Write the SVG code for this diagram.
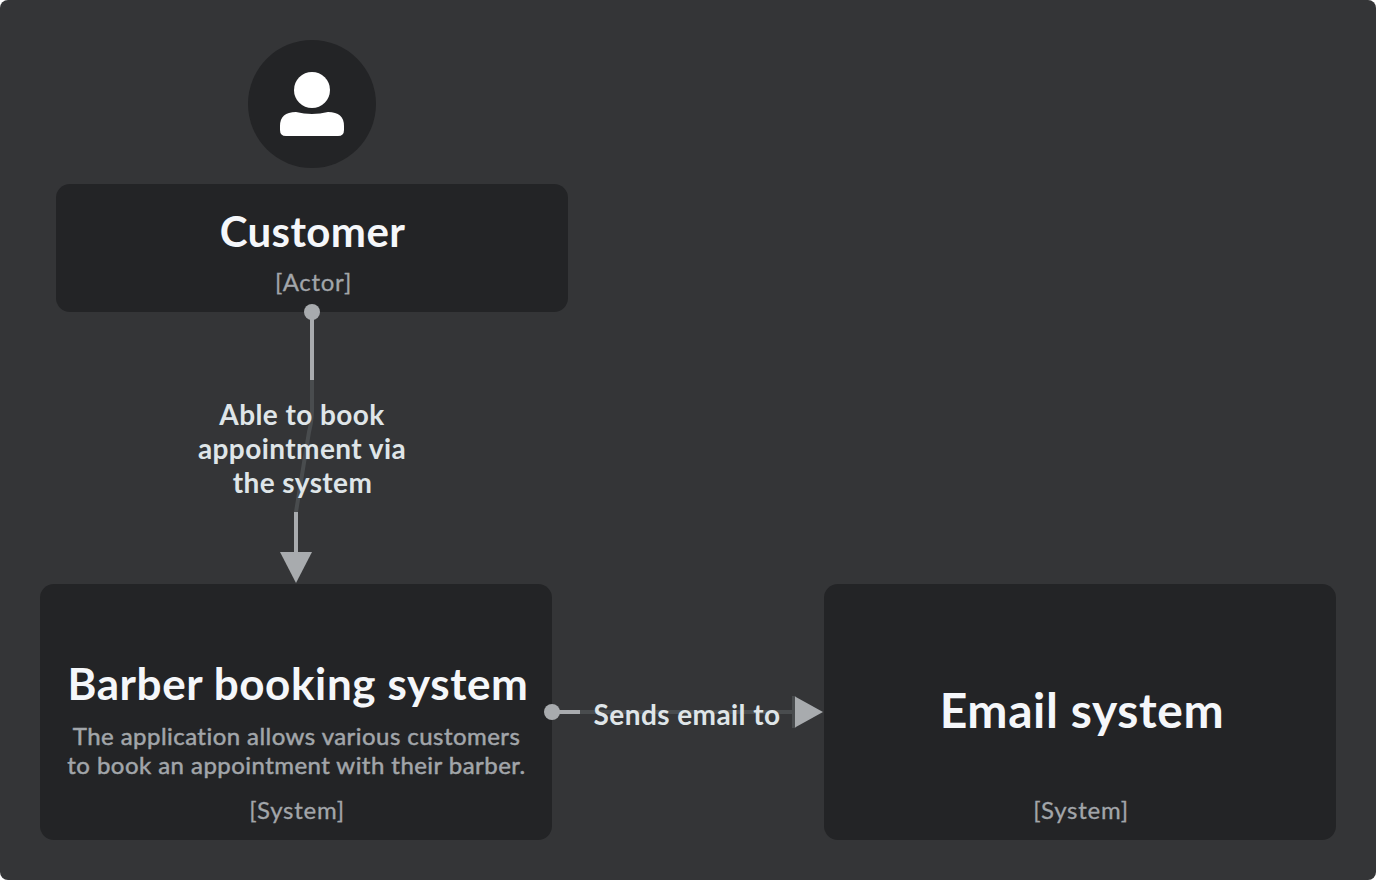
<svg xmlns="http://www.w3.org/2000/svg" width="1376" height="880" viewBox="0 0 1376 880">
<defs>
<style>
.box{fill:#232426}
.t{font-family:Lato,"Liberation Sans",sans-serif;text-anchor:middle}
.title{fill:#f5f7fa;font-weight:700;font-size:44px;letter-spacing:.6px}
.sub{fill:#a2a6aa;stroke:#a2a6aa;stroke-width:.3px;font-size:24px;letter-spacing:.72px}
.desc{fill:#a2a6aa;stroke:#a2a6aa;stroke-width:.5px;font-size:24px;letter-spacing:.45px}
.lab{fill:#dfe5e8;font-weight:700;font-size:28px;letter-spacing:.42px}
.bright{stroke:#a8abae;stroke-width:4;fill:none}
.dim{stroke:#494c4e;stroke-width:4;fill:none}
.head{fill:#a8abae}
</style>
</defs>
<rect width="1376" height="880" fill="#ffffff"/>
<rect id="background" width="1376" height="880" rx="8" fill="#343537"/>
<g id="customer">
<circle cx="312" cy="104" r="64" class="box"/>
<circle cx="312" cy="90" r="18" fill="#fff"/>
<path d="M280 130V126Q280 112 296 112Q304 114 312 114Q320 114 328 112Q344 112 344 126V130Q344 136 338 136H286Q280 136 280 130Z" fill="#fff"/>
<rect class="box" x="56" y="184" width="512" height="128" rx="14"/>
<text class="t title" x="312.500" y="247" style="font-size:42px;letter-spacing:.4px">Customer</text>
<text class="t sub" x="313.500" y="291">[Actor]</text>
</g>
<g id="barber-booking-system">
<rect class="box" x="40" y="584" width="512" height="256" rx="14"/>
<text class="t title" x="298" y="699.500">Barber booking system</text>
<text class="t desc" x="296.500" y="745">The application allows various customers</text>
<text class="t desc" x="296.500" y="774">to book an appointment with their barber.</text>
<text class="t sub" x="297" y="819">[System]</text>
</g>
<g id="email-system">
<rect class="box" x="824" y="584" width="512" height="256" rx="14"/>
<text class="t title" x="1082" y="727.500" style="font-size:48px;letter-spacing:.6px">Email system</text>
<text class="t sub" x="1081" y="819">[System]</text>
</g>
<g id="connectors">
<path class="dim" d="M312 380V410Q312 420 309 432L296 512V514"/>
<path class="bright" d="M312 312V380"/>
<path class="bright" d="M296 512V556"/>
<circle class="head" cx="312" cy="312" r="8"/>
<path class="head" d="M280 552H312L296 583Z"/>
<path class="dim" d="M580 712H796"/>
<path class="bright" d="M552 712H580"/>
<circle class="head" cx="552" cy="712" r="8"/>
<path d="M792 696L796 696V728L792 728Z" fill="#494c4e"/>
<path class="head" d="M795 696.500L823 712L795 727.500Z"/>
<text class="t lab" x="302" y="424.500">Able to book</text>
<text class="t lab" x="302" y="458.500">appointment via</text>
<text class="t lab" x="302.500" y="492.500">the system</text>
<text class="t lab" x="687" y="724.500">Sends email to</text>
</g>
</svg>
